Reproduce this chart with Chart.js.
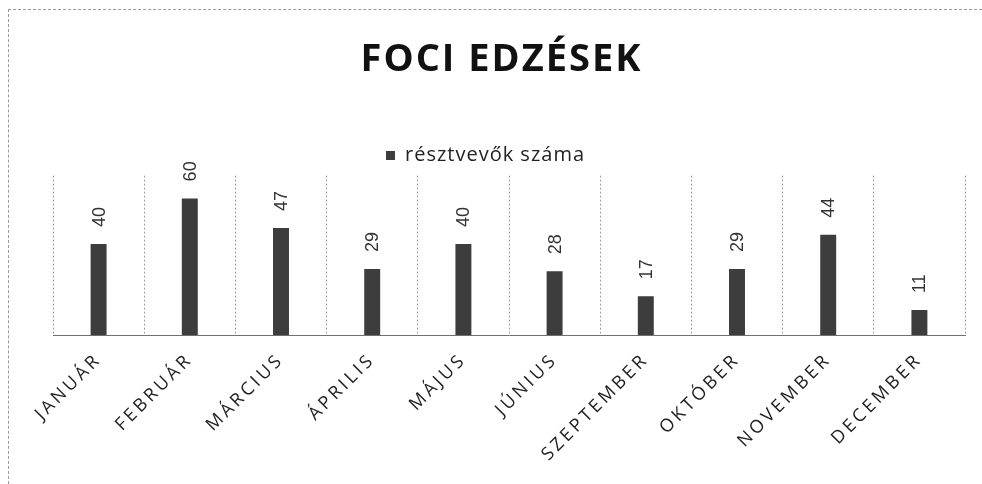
<!DOCTYPE html>
<html>
<head>
<meta charset="utf-8">
<script src="https://cdn.jsdelivr.net/npm/chart.js@4/dist/chart.umd.min.js"></script>
<style>
  html, body { margin: 0; padding: 0; background: #fff; }
  #wrap { position: relative; width: 982px; height: 484px; }
  #frame {
    position: absolute; left: 8px; top: 9px; right: 0; bottom: 0;
    border-top: 1px dashed #9a9a9a; border-left: 1px dashed #9a9a9a;
    pointer-events: none;
  }
  canvas { position: absolute; left: 0; top: 0; }
</style>
</head>
<body>
<div id="wrap">
  <canvas id="chart" width="982" height="484"></canvas>
  <div id="frame"></div>
</div>
<script>
  // --- data ---
  const chartTitle = "FOCI EDZÉSEK";
  const seriesName = "résztvevők száma";
  const months = ["JANUÁR", "FEBRUÁR", "MÁRCIUS", "ÁPRILIS", "MÁJUS", "JÚNIUS",
                  "SZEPTEMBER", "OKTÓBER", "NOVEMBER", "DECEMBER"];
  const participants = [40, 60, 47, 29, 40, 28, 17, 29, 44, 11];
  const yMax = 70;

  // value labels, rotated, above every bar
  const valueLabels = {
    id: "valueLabels",
    afterDatasetsDraw(chart) {
      const ctx = chart.ctx;
      const meta = chart.getDatasetMeta(0);
      ctx.save();
      ctx.font = '18px "Liberation Sans", Arial, sans-serif';
      ctx.fillStyle = "#333";
      ctx.textAlign = "left";
      ctx.textBaseline = "middle";
      meta.data.forEach((bar, i) => {
        ctx.save();
        ctx.translate(bar.x + 1, bar.y - 17);
        ctx.rotate(-Math.PI / 2);
        ctx.fillText(String(participants[i]), 0, 0);
        ctx.restore();
      });
      ctx.restore();
    },
  };

  // wrap a box's draw() with some letter spacing (and a small shift)
  function spaced(box, spacing, dx) {
    const draw = box.draw.bind(box);
    box.draw = (...args) => {
      const c = box.ctx || box.chart.ctx;
      c.save();
      c.letterSpacing = spacing;
      c.translate(dx, 0);
      draw(...args);
      c.restore();
    };
  }

  const spacedText = {
    id: "spacedText",
    afterInit(chart) {
      spaced(chart.titleBlock, "2px", 19);
      spaced(chart.legend, "1px", -5);
    },
  };

  // spaced-out month names on the x axis
  function spaceTicks(scale) {
    if (scale._spaced) return;
    scale._spaced = true;
    const draw = scale.drawLabels.bind(scale);
    scale.drawLabels = (area) => {
      const c = scale.ctx;
      c.save();
      c.letterSpacing = "3.3px";
      draw(area);
      c.restore();
    };
  }

  new Chart(document.getElementById("chart"), {
    type: "bar",
    data: {
      labels: months,
      datasets: [
        {
          label: seriesName,
          data: participants,
          backgroundColor: "#3d3d3d",
          categoryPercentage: 1,
          barPercentage: 0.175,
        },
      ],
    },
    options: {
      responsive: false,
      animation: false,
      devicePixelRatio: 1,
      layout: { padding: { left: 0, right: 17, top: 0, bottom: 4 } },
      plugins: {
        title: {
          display: true,
          text: chartTitle,
          color: "#111",
          font: { family: "'Open Sans'", size: 38, weight: "bold", lineHeight: 1.2 },
          padding: { top: 37, bottom: 49 },
        },
        legend: {
          display: true,
          onClick: null,
          labels: {
            boxWidth: 9,
            boxHeight: 9,
            color: "#222",
            padding: 14,
            font: { family: "'Open Sans'", size: 20 },
          },
        },
        tooltip: { enabled: false },
      },
      scales: {
        x: {
          afterUpdate: spaceTicks,
          afterFit(scale) { scale.height += 24; },
          grid: { display: true, offset: true, drawTicks: false, color: "#a0a0a0", lineWidth: 1 },
          border: { display: true, color: "#707070", width: 1, dash: [2, 2] },
          ticks: {
            color: "#222",
            minRotation: 45,
            maxRotation: 45,
            padding: 14,
            font: { family: "'Open Sans'", size: 18 },
          },
        },
        y: {
          display: true,
          min: 0,
          max: yMax,
          afterFit(scale) { scale.width = 53; },
          grid: { display: false },
          border: { display: false },
          ticks: { display: false },
        },
      },
    },
    plugins: [valueLabels, spacedText],
  });
</script>
</body>
</html>
